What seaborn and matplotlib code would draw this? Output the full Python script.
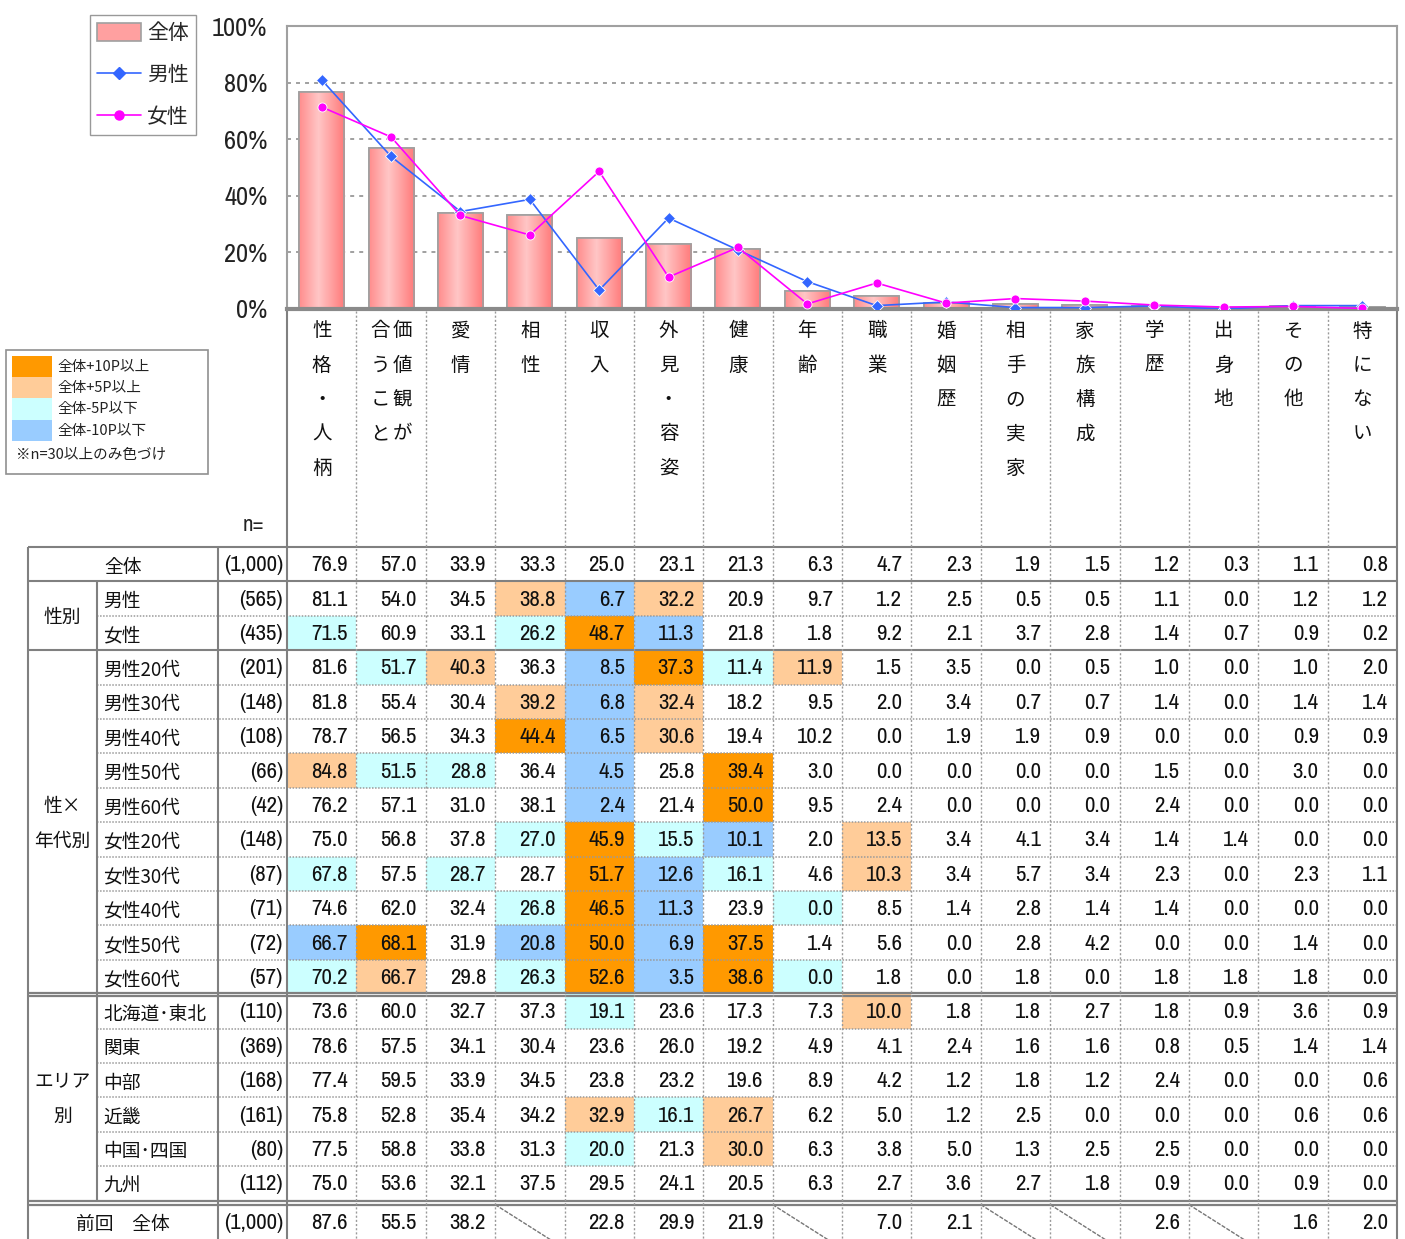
import numpy as np
import pandas as pd
import matplotlib
matplotlib.use("Agg")
import matplotlib.pyplot as plt
import seaborn as sns
from matplotlib import font_manager
from matplotlib.font_manager import FontProperties
from matplotlib.patches import Rectangle, Patch
from matplotlib.lines import Line2D
from matplotlib.colors import LinearSegmentedColormap

# ---------------- data ----------------
categories = ["性格・人柄", "価値観が合うこと", "愛情", "相性", "収入", "外見・容姿", "健康", "年齢",
              "職業", "婚姻歴", "相手の実家", "家族構成", "学歴", "出身地", "その他", "特にない"]
# vertical layout columns (right-to-left) for long labels
label_columns = {"価値観が合うこと": ["価値観が", "合うこと"]}

total = [76.9, 57.0, 33.9, 33.3, 25.0, 23.1, 21.3, 6.3, 4.7, 2.3, 1.9, 1.5, 1.2, 0.3, 1.1, 0.8]
male = [81.1, 54.0, 34.5, 38.8, 6.7, 32.2, 20.9, 9.7, 1.2, 2.5, 0.5, 0.5, 1.1, 0.0, 1.2, 1.2]
female = [71.5, 60.9, 33.1, 26.2, 48.7, 11.3, 21.8, 1.8, 9.2, 2.1, 3.7, 2.8, 1.4, 0.7, 0.9, 0.2]
total_n = 1000

sex_labels = ["男性", "女性"]
sex_n = [565, 435]
sex_values = [male, female]

age_labels = ["男性20代", "男性30代", "男性40代", "男性50代", "男性60代",
              "女性20代", "女性30代", "女性40代", "女性50代", "女性60代"]
age_n = [201, 148, 108, 66, 42, 148, 87, 71, 72, 57]
age_values = [
    [81.6, 51.7, 40.3, 36.3, 8.5, 37.3, 11.4, 11.9, 1.5, 3.5, 0.0, 0.5, 1.0, 0.0, 1.0, 2.0],
    [81.8, 55.4, 30.4, 39.2, 6.8, 32.4, 18.2, 9.5, 2.0, 3.4, 0.7, 0.7, 1.4, 0.0, 1.4, 1.4],
    [78.7, 56.5, 34.3, 44.4, 6.5, 30.6, 19.4, 10.2, 0.0, 1.9, 1.9, 0.9, 0.0, 0.0, 0.9, 0.9],
    [84.8, 51.5, 28.8, 36.4, 4.5, 25.8, 39.4, 3.0, 0.0, 0.0, 0.0, 0.0, 1.5, 0.0, 3.0, 0.0],
    [76.2, 57.1, 31.0, 38.1, 2.4, 21.4, 50.0, 9.5, 2.4, 0.0, 0.0, 0.0, 2.4, 0.0, 0.0, 0.0],
    [75.0, 56.8, 37.8, 27.0, 45.9, 15.5, 10.1, 2.0, 13.5, 3.4, 4.1, 3.4, 1.4, 1.4, 0.0, 0.0],
    [67.8, 57.5, 28.7, 28.7, 51.7, 12.6, 16.1, 4.6, 10.3, 3.4, 5.7, 3.4, 2.3, 0.0, 2.3, 1.1],
    [74.6, 62.0, 32.4, 26.8, 46.5, 11.3, 23.9, 0.0, 8.5, 1.4, 2.8, 1.4, 1.4, 0.0, 0.0, 0.0],
    [66.7, 68.1, 31.9, 20.8, 50.0, 6.9, 37.5, 1.4, 5.6, 0.0, 2.8, 4.2, 0.0, 0.0, 1.4, 0.0],
    [70.2, 66.7, 29.8, 26.3, 52.6, 3.5, 38.6, 0.0, 1.8, 0.0, 1.8, 0.0, 1.8, 1.8, 1.8, 0.0],
]

area_labels = ["北海道･東北", "関東", "中部", "近畿", "中国･四国", "九州"]
area_n = [110, 369, 168, 161, 80, 112]
area_values = [
    [73.6, 60.0, 32.7, 37.3, 19.1, 23.6, 17.3, 7.3, 10.0, 1.8, 1.8, 2.7, 1.8, 0.9, 3.6, 0.9],
    [78.6, 57.5, 34.1, 30.4, 23.6, 26.0, 19.2, 4.9, 4.1, 2.4, 1.6, 1.6, 0.8, 0.5, 1.4, 1.4],
    [77.4, 59.5, 33.9, 34.5, 23.8, 23.2, 19.6, 8.9, 4.2, 1.2, 1.8, 1.2, 2.4, 0.0, 0.0, 0.6],
    [75.8, 52.8, 35.4, 34.2, 32.9, 16.1, 26.7, 6.2, 5.0, 1.2, 2.5, 0.0, 0.0, 0.0, 0.6, 0.6],
    [77.5, 58.8, 33.8, 31.3, 20.0, 21.3, 30.0, 6.3, 3.8, 5.0, 1.3, 2.5, 2.5, 0.0, 0.0, 0.0],
    [75.0, 53.6, 32.1, 37.5, 29.5, 24.1, 20.5, 6.3, 2.7, 3.6, 2.7, 1.8, 0.9, 0.0, 0.9, 0.0],
]

prev_label = "前回　全体"
prev_n = 1000
prev_values = [87.6, 55.5, 38.2, None, 22.8, 29.9, 21.9, None, 7.0, 2.1, None, None, 2.6, None, 1.6, 2.0]

legend_colors = ["#FF9900", "#FFCC99", "#CCFFFF", "#99CCFF"]
legend_texts = ["全体+10P以上", "全体+5P以上", "全体-5P以下", "全体-10P以下"]
legend_note = "※n=30以上のみ色づけ"

# ---------------- style ----------------
sns.set_style("white")
CJK = ["Noto Sans CJK JP", "DejaVu Sans"]
plt.rcParams["font.family"] = CJK


def find_narrow():
    fl = font_manager.fontManager.ttflist
    for f in fl:
        if f.name == "Liberation Sans Narrow" and f.weight in (400, "normal", "regular") and f.style == "normal":
            return f.fname
    for f in fl:
        if "Narrow" in f.name and f.style == "normal":
            return f.fname
    for f in fl:
        if f.stretch in ("condensed", "semi-condensed", "extra-condensed") and f.style == "normal" \
                and f.weight in (400, "normal", "regular") and "Mono" not in f.name and "Serif" not in f.name:
            return f.fname
    return None


_nf = find_narrow()
NARROW = _nf is not None


def numfont(size):
    if NARROW:
        return FontProperties(fname=_nf, size=size)
    return FontProperties(family="Liberation Sans", size=size * 0.86)


W, H = 1405, 1239
fig = plt.figure(figsize=(W / 100, H / 100), dpi=100)


def fx(x):
    return x / W


def fy(y):
    return 1 - y / H


X_PLOT_L, X_PLOT_R = 287, 1397
Y_TOP, Y_ZERO = 26.5, 309
ncol = len(categories)
col_w = (X_PLOT_R - X_PLOT_L) / ncol

# ---------------- chart ----------------
ax = fig.add_axes([fx(X_PLOT_L), fy(Y_ZERO), (X_PLOT_R - X_PLOT_L) / W, (Y_ZERO - Y_TOP) / H])
df = pd.DataFrame({"cat": categories, "total": total, "male": male, "female": female})
sns.barplot(data=df, x="cat", y="total", color="#FF9999", saturation=1, width=0.65,
            edgecolor="#A0A0A0", linewidth=1.2, ax=ax, zorder=2)

edge_c, mid_c = "#FF7A7A", "#FFC6C6"
cmap = LinearSegmentedColormap.from_list("barg", [mid_c, edge_c])
grad = np.abs(np.linspace(-1, 1, 64) + 0.15).reshape(1, -1)
for p in list(ax.patches):
    x0, y0, w, h = p.get_x(), p.get_y(), p.get_width(), p.get_height()
    im = ax.imshow(grad, extent=[x0, x0 + w, y0, y0 + h], aspect="auto", cmap=cmap,
                   vmin=0, vmax=1.15, zorder=2.1, interpolation="bilinear")
    im.set_clip_path(p)
    ax.add_patch(Rectangle((x0, y0), w, h, fill=False, edgecolor="#A0A0A0", lw=1.2, zorder=2.2))

sns.pointplot(data=df, x="cat", y="male", color="#3366FF", markers="D", linestyles="-",
              linewidth=1.2, markersize=6, markeredgewidth=0.6, markeredgecolor="white", ax=ax, zorder=4)
sns.pointplot(data=df, x="cat", y="female", color="#FF00FF", markers="o", linestyles="-",
              linewidth=1.2, markersize=6.5, markeredgewidth=0.6, markeredgecolor="white", ax=ax, zorder=4)

ax.set_xlim(-0.5, ncol - 0.5)
ax.set_ylim(0, 100)
ax.set_xticks([])
ax.set_xlabel("")
ax.set_ylabel("")
ax.set_yticks([0, 20, 40, 60, 80, 100])
ax.set_yticklabels(["0%", "20%", "40%", "60%", "80%", "100%"], color="#222222")
for lbl in ax.get_yticklabels():
    lbl.set_fontproperties(numfont(19))
ax.tick_params(axis="y", length=0, pad=14)
ax.yaxis.grid(True, linestyle=(0, (2.2, 2.8)), color="#999999", lw=1.3, zorder=0)
ax.set_axisbelow(True)
for s in ["top", "right", "left"]:
    ax.spines[s].set_color("#A0A0A0")
    ax.spines[s].set_linewidth(1.5)
ax.spines["bottom"].set_color("#8A8A8A")
ax.spines["bottom"].set_linewidth(3)

handles = [Patch(facecolor="#FFA0A0", edgecolor="#A0A0A0", lw=1.2),
           Line2D([0], [0], color="#3366FF", marker="D", markersize=6, lw=1.2),
           Line2D([0], [0], color="#FF00FF", marker="o", markersize=6.5, lw=1.2)]
ax.legend(handles, ["全体", "男性", "女性"], loc="upper left", bbox_to_anchor=(fx(90), fy(15)),
          bbox_transform=fig.transFigure, frameon=True, fancybox=False, edgecolor="#808080",
          fontsize=15, handlelength=2.1, handleheight=0.9, labelspacing=0.95, borderpad=0.35,
          handletextpad=0.3, borderaxespad=0)

# ---------------- overlay (labels + table) ----------------
ov = fig.add_axes([0, 0, 1, 1], zorder=5)
ov.set_xlim(0, W)
ov.set_ylim(H, 0)
ov.axis("off")

GRAY = "#808080"
DOT = "#9A9A9A"
X_G, X_L, X_N = 28, 97, 218
col_left = [X_PLOT_L + i * col_w for i in range(ncol)]
NUMSZ = 16.5

# category labels (vertical text)
Y_CHAR0, DY_CHAR = 331, 34.3
for i, cat in enumerate(categories):
    cx = col_left[i] + col_w / 2
    cols = label_columns.get(cat, [cat])
    offs = [0] if len(cols) == 1 else [11, -11]
    for k, txt in enumerate(cols):
        for j, ch in enumerate(txt):
            ov.text(cx + offs[k], Y_CHAR0 + j * DY_CHAR, ch, ha="center", va="center",
                    fontsize=14, color="#111111")

ov.text(253, 525, "n=", ha="center", va="center", fontproperties=numfont(NUMSZ), color="#222222")

# color legend box
ov.add_patch(Rectangle((6, 350), 202, 124, fill=False, edgecolor="#909090", lw=1.2))
for k, (c, t) in enumerate(zip(legend_colors, legend_texts)):
    y = 356 + k * 21.2
    ov.add_patch(Rectangle((12, y), 40, 21.2, facecolor=c, edgecolor="none"))
    ov.text(57, y + 11, t, ha="left", va="center", fontsize=10.5, color="#222222")
ov.text(16, 455, legend_note, ha="left", va="center", fontsize=10.5, color="#222222")

# table rows
ROW_H = 34.4
Y_T0 = 547
rows = [("全体", total_n, total, False)]
for l, n, v in zip(sex_labels, sex_n, sex_values):
    rows.append((l, n, v, True))
for l, n, v in zip(age_labels, age_n, age_values):
    rows.append((l, n, v, True))
for l, n, v in zip(area_labels, area_n, area_values):
    rows.append((l, n, v, True))
n_main = len(rows)
Y_MAIN_END = Y_T0 + n_main * ROW_H
Y_PREV_T = Y_MAIN_END + 4
Y_PREV_B = Y_PREV_T + 44


def exact(v, n):
    # percentage recomputed from the respondent count
    return round(v * n / 100) / n * 100


def cell_color(v, n, i):
    if n < 30:
        return None
    d = exact(v, n) - exact(total[i], total_n)
    if d >= 10 - 1e-9:
        return legend_colors[0]
    if d >= 5 - 1e-9:
        return legend_colors[1]
    if d <= -10 + 1e-9:
        return legend_colors[3]
    if d <= -5 + 1e-9:
        return legend_colors[2]
    return None


def fmt_n(n):
    return f"({n:,})"


for r, (lab, n, vals, colorize) in enumerate(rows):
    yt = Y_T0 + r * ROW_H
    yc = yt + ROW_H / 2 + 1
    for i, v in enumerate(vals):
        if colorize:
            c = cell_color(v, n, i)
            if c:
                ov.add_patch(Rectangle((col_left[i], yt), col_w, ROW_H, facecolor=c,
                                       edgecolor="none", zorder=0))
        ov.text(col_left[i] + col_w - 9, yc, f"{v:.1f}", ha="right", va="center",
                fontproperties=numfont(NUMSZ), color="#111111", zorder=3)
    ov.text(X_PLOT_L - 4, yc, fmt_n(n), ha="right", va="center", fontproperties=numfont(NUMSZ),
            color="#111111", zorder=3)
    if r == 0:
        ov.text((X_G + X_N) / 2, yc + 2, lab, ha="center", va="center", fontsize=13.5, color="#111111")
    else:
        ov.text(X_L + 6, yc + 2, lab, ha="left", va="center", fontsize=13.5, color="#111111")

# previous survey row
yc = Y_PREV_T + ROW_H / 2 + 1
ov.text((X_G + X_N) / 2, yc + 2, prev_label, ha="center", va="center", fontsize=13.5, color="#111111")
ov.text(X_PLOT_L - 4, yc, fmt_n(prev_n), ha="right", va="center", fontproperties=numfont(NUMSZ),
        color="#111111")
for i, v in enumerate(prev_values):
    if v is None:
        ov.plot([col_left[i], col_left[i] + col_w], [Y_PREV_T, Y_PREV_B], color="#777777",
                lw=1.0, linestyle=(0, (3, 1)), zorder=2)
    else:
        ov.text(col_left[i] + col_w - 9, yc, f"{v:.1f}", ha="right", va="center",
                fontproperties=numfont(NUMSZ), color="#111111", zorder=3)


# group labels
def group_label(lines, r0, r1):
    yc = Y_T0 + (r0 + r1) / 2 * ROW_H
    nl = len(lines)
    for k, t in enumerate(lines):
        ov.text((X_G + X_L) / 2, yc + (k - (nl - 1) / 2) * 35 + 2, t, ha="center", va="center",
                fontsize=13.5, color="#111111")


group_label(["性別"], 1, 3)
group_label(["性×", "年代別"], 3, 13)
group_label(["エリア", "別"], 13, 19)


# grid lines
def hline(y, x0, x1, solid=True, lw=1.5, color=GRAY):
    if solid:
        ov.plot([x0, x1], [y, y], color=color, lw=lw, solid_capstyle="butt", zorder=2)
    else:
        ov.plot([x0, x1], [y, y], color=DOT, lw=1.1, linestyle=(0, (1, 1)), zorder=2)


def vline(x, y0, y1, solid=True, lw=1.5):
    if solid:
        ov.plot([x, x], [y0, y1], color=GRAY, lw=lw, solid_capstyle="butt", zorder=2)
    else:
        ov.plot([x, x], [y0, y1], color=DOT, lw=1.0, linestyle=(0, (1.5, 1.5)), zorder=2)


for r in range(n_main + 1):
    y = Y_T0 + r * ROW_H
    if r in (0, 1, 3):
        hline(y, X_G, X_PLOT_R)
    elif r == 13:
        hline(y - 1.5, X_G, X_PLOT_R, lw=1.6)
        hline(y + 1.5, X_G, X_PLOT_R, lw=1.6)
    elif r == n_main:
        hline(y, X_G, X_PLOT_R, lw=1.6)
        hline(Y_PREV_T, X_G, X_PLOT_R, lw=1.6)
    else:
        hline(y, X_L, X_PLOT_R, solid=False)

vline(X_G, Y_T0, H + 5)
vline(X_L, Y_T0 + ROW_H, Y_MAIN_END)
vline(X_N, Y_T0, H + 5)
vline(X_PLOT_L, 311, H + 5)
vline(X_PLOT_R, 311, H + 5)
for i in range(1, ncol):
    vline(col_left[i], 311, H + 5, solid=False)

fig.savefig("out.png", dpi=100)
